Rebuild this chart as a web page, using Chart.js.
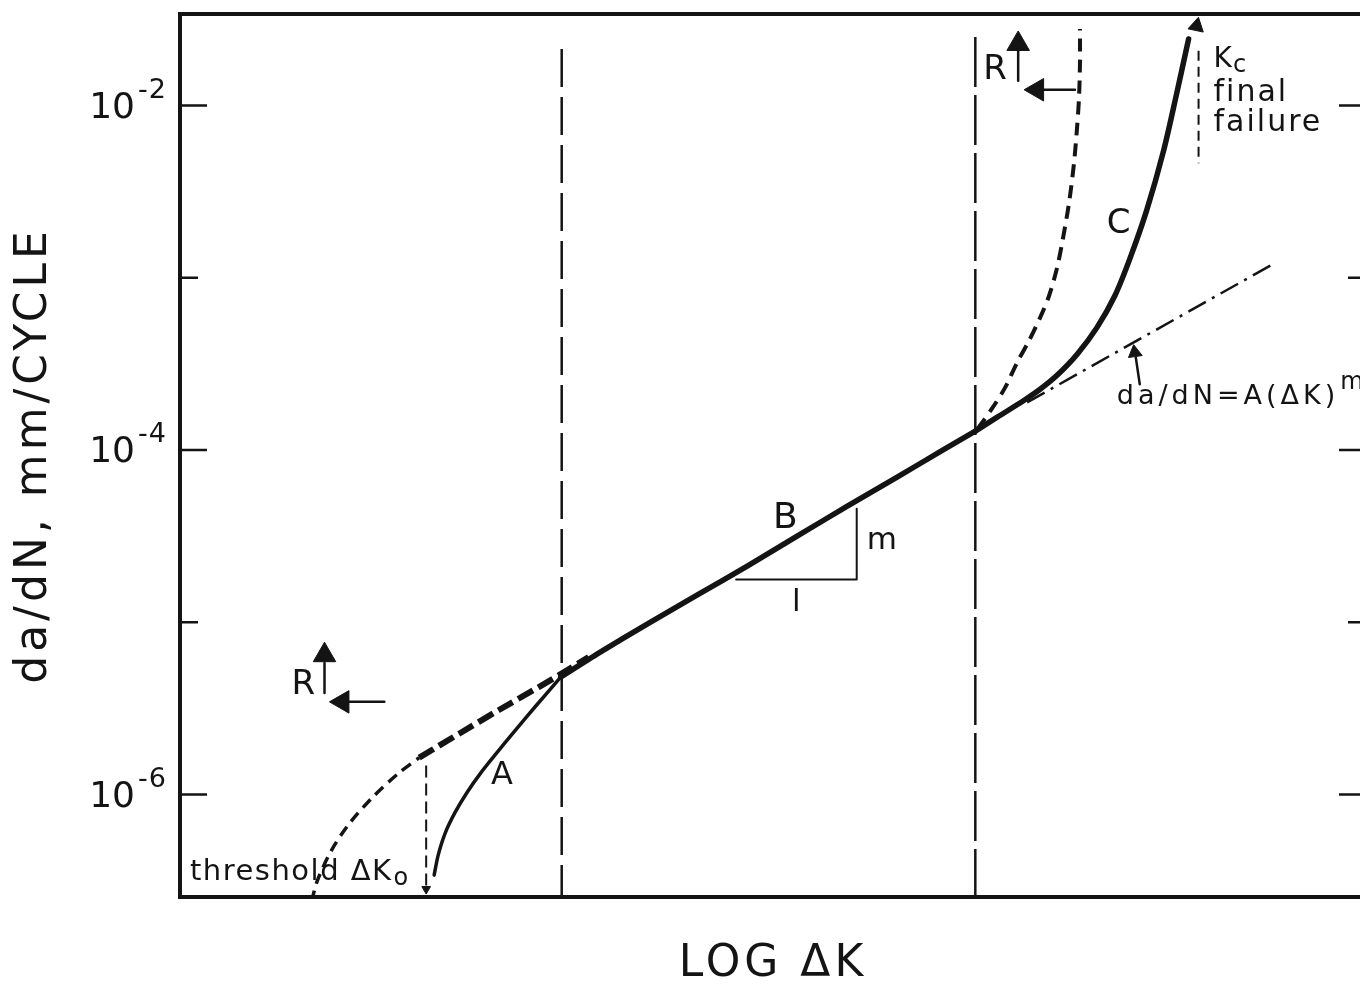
<!DOCTYPE html>
<html lang="en">
<head>
<meta charset="UTF-8">
<title>Fatigue crack growth regions</title>
<script src="https://cdn.jsdelivr.net/npm/chart.js@4/dist/chart.umd.min.js"></script>
<style>
    html, body { margin: 0; padding: 0; overflow: hidden; background: #fff; }
    #wrap { width: 1380px; height: 988px; }
</style>
</head>
<body>
<div id="wrap"><canvas id="crackChart" width="1380" height="988"></canvas></div>
<script>
// x = LOG dK in arbitrary units (the figure has no scale), y = log10 of da/dN (mm/cycle)
var xRange = [0, 1190];
var yRangeLog = [-6.595, -1.468];
var decadeExp = [-2, -3, -4, -5, -6];
var tickLabelExp = [-2, -4, -6];

// region A, near threshold
var regionA_x   = [255, 259, 266, 276, 288, 302, 318, 336, 357, 382];
var regionA_log = [-6.468, -6.353, -6.225, -6.104, -5.988, -5.873, -5.757, -5.630, -5.486, -5.318];
// region B, power law
var regionB_x   = [382, 420, 470, 520, 570, 620, 670, 720, 767, 798];
var regionB_log = [-5.318, -5.179, -5.006, -4.838, -4.671, -4.497, -4.324, -4.156, -3.994, -3.890];
// region C, up to Kc
var regionC_x   = [798, 820, 847, 863, 880, 900, 920, 938, 953, 970, 987, 1000, 1012];
var regionC_log = [-3.890, -3.809, -3.711, -3.647, -3.566, -3.445, -3.289, -3.104, -2.890, -2.607, -2.260, -1.931, -1.613];
// higher R (dashed), fast end
var highRTop_x   = [800, 815, 828, 840, 852, 863, 872, 880, 886, 892, 897, 900, 902, 903, 903];
var highRTop_log = [-3.879, -3.757, -3.636, -3.491, -3.364, -3.231, -3.104, -2.942, -2.769, -2.566, -2.335, -2.133, -1.960, -1.757, -1.555];
// higher R (dashed), threshold end
var highRLow_x   = [132, 138, 152, 170, 195, 220, 240];
var highRLow_log = [-6.620, -6.497, -6.324, -6.168, -6.006, -5.873, -5.786];
var highRJoin_x   = [240, 280, 320, 360, 382, 410];
var highRJoin_log = [-5.786, -5.647, -5.509, -5.376, -5.301, -5.202];
// da/dN = A(dK)^m extended
var parisExt_x   = [850, 1097];
var parisExt_log = [-3.723, -2.919];

// vertical lines: region bounds, threshold, Kc
var divider_x      = [383, 798, 247, 1022];
var dividerTop_log = [-1.671, -1.601, -5.832, -1.682];
var dividerBot_log = [-6.620, -6.620, -6.555, -2.335];

// slope triangle
var slope_x   = [558, 679, 679];
var slope_log = [-4.751, -4.751, -4.341];

// arrows [x0, log0, x1, log1]
var arrowShafts = [
    [145, -5.410, 145, -5.237],
    [205, -5.462, 165, -5.462],
    [841, -1.855, 841, -1.671],
    [898, -1.908, 865, -1.908],
    [963, -3.618, 959, -3.462]
];
var head_x   = [145, 163, 841, 860, 958, 1020, 247];
var head_log = [-5.191, -5.462, -1.642, -1.908, -3.434, -1.538, -6.549];

var notes = [
    { text: 'B', x: 595, log: -4.451, size: 36 },
    { text: 'm', x: 689, log: -4.572, size: 31 },
    { text: 'l', x: 614, log: -4.936, size: 31 },
    { text: 'A', x: 312, log: -5.936, size: 32 },
    { text: 'C', x: 930, log: -2.740, size: 34 },
    { text: 'R', x: 112, log: -5.416, size: 34 },
    { text: 'R', x: 806, log: -1.844, size: 34 },
    { text: 'threshold ΔK', x: 10, log: -6.497, size: 29, spacing: 1.5, tail: 'o', tailSize: 24, tailShift: 5 },
    { text: 'K', x: 1037, log: -1.775, size: 28, tail: 'c', tailSize: 24, tailShift: 5 },
    { text: 'final', x: 1037, log: -1.971, size: 30, spacing: 2 },
    { text: 'failure', x: 1037, log: -2.145, size: 30, spacing: 2 },
    { text: 'da/dN=A(ΔK)', x: 940, log: -3.734, size: 27, spacing: 4, tail: 'm', tailSize: 24, tailShift: -15 }
];

var ink = '#141414';
var fontName = '"DejaVu Sans", sans-serif';

function pts(xs, logs) {
    return xs.map(function (x, i) { return { x: x, y: Math.pow(10, logs[i]) }; });
}

function curve(data, width, dash, tension) {
    return {
        data: data,
        showLine: true,
        borderColor: ink,
        borderWidth: width,
        borderDash: dash || [],
        borderCapStyle: dash ? 'butt' : 'round',
        borderJoinStyle: 'round',
        tension: tension || 0,
        pointRadius: 0,
        pointHoverRadius: 0
    };
}

var datasets = [];
// arrowheads on top
datasets.push({
    data: pts(head_x, head_log),
    showLine: false,
    pointStyle: 'triangle',
    pointRadius: [13, 13, 13, 13, 8, 9, 5],
    pointRotation: [0, 270, 0, 270, -8, 12, 180],
    pointBackgroundColor: ink,
    pointBorderColor: ink,
    pointBorderWidth: 1,
    pointHoverRadius: 0
});
arrowShafts.forEach(function (s) {
    datasets.push(curve(pts([s[0], s[2]], [s[1], s[3]]), 2.5));
});
datasets.push(curve(pts(regionA_x, regionA_log), 3.5, null, 0.3));
datasets.push(curve(pts(regionB_x, regionB_log), 5.5, null, 0.2));
datasets.push(curve(pts(regionC_x, regionC_log), 5.5, null, 0.3));
datasets.push(curve(pts(highRTop_x, highRTop_log), 4, [13, 8], 0.3));
datasets.push(curve(pts(highRLow_x, highRLow_log), 3.5, [11, 7], 0.3));
datasets.push(curve(pts(highRJoin_x, highRJoin_log), 6, [17, 6], 0.2));
datasets.push(curve(pts(parisExt_x, parisExt_log), 2.5, [20, 7, 3, 7]));
datasets.push(curve(pts(slope_x, slope_log), 2));
var dividerDash = [[38, 10], [50, 8], [12, 6], [10, 6]];
divider_x.forEach(function (x, i) {
    datasets.push(curve(pts([x, x], [dividerTop_log[i], dividerBot_log[i]]), i < 2 ? 2.5 : 2, dividerDash[i]));
});

var frameAndText = {
    id: 'frameAndText',
    beforeDraw: function (chart) {
        chart.ctx.letterSpacing = '4px';
    },
    afterDatasetsDraw: function (chart) {
        var ctx = chart.ctx, a = chart.chartArea, xs = chart.scales.x, ys = chart.scales.y;
        ctx.save();
        ctx.letterSpacing = '0px';
        ctx.strokeStyle = ink;
        ctx.fillStyle = ink;
        ctx.lineWidth = 4;
        ctx.strokeRect(a.left, a.top, a.right - a.left, a.bottom - a.top);

        // decade ticks, both sides, pointing inwards
        ctx.lineWidth = 2.5;
        ys.ticks.forEach(function (t) {
            var py = ys.getPixelForValue(t.value);
            var e = Math.round(Math.log10(t.value));
            var len = (e % 2 === 0) ? 27 : 18;
            ctx.beginPath();
            ctx.moveTo(a.left, py); ctx.lineTo(a.left + len, py);
            ctx.moveTo(a.right, py); ctx.lineTo(a.right - len, py);
            ctx.stroke();
        });

        // 10^-n labels
        ctx.textBaseline = 'alphabetic';
        tickLabelExp.forEach(function (e) {
            var py = ys.getPixelForValue(Math.pow(10, e));
            ctx.font = '36px ' + fontName;
            ctx.textAlign = 'right';
            ctx.fillText('10', 135, py + 12);
            ctx.font = '27px ' + fontName;
            ctx.textAlign = 'left';
            ctx.letterSpacing = '1px';
            ctx.fillText('-' + (-e), 138, py - 8);
            ctx.letterSpacing = '0px';
        });

        // annotations
        ctx.textAlign = 'left';
        notes.forEach(function (n) {
            var px = xs.getPixelForValue(n.x);
            var py = ys.getPixelForValue(Math.pow(10, n.log));
            ctx.letterSpacing = (n.spacing || 0) + 'px';
            ctx.font = n.size + 'px ' + fontName;
            ctx.fillText(n.text, px, py);
            if (n.tail) {
                var w = ctx.measureText(n.text).width;
                ctx.font = n.tailSize + 'px ' + fontName;
                ctx.fillText(n.tail, px + w + 1, py + n.tailShift);
            }
        });
        ctx.restore();
    }
};

var titleFont = { family: 'DejaVu Sans', size: 44 };

new Chart(document.getElementById('crackChart').getContext('2d'), {
    type: 'scatter',
    data: { datasets: datasets },
    options: {
        responsive: false,
        animation: false,
        layout: { padding: { left: 0, top: 8, right: 10, bottom: 0 } },
        plugins: { legend: { display: false }, tooltip: { enabled: false } },
        scales: {
            x: {
                type: 'linear',
                min: xRange[0],
                max: xRange[1],
                ticks: { display: false },
                grid: { display: false },
                border: { display: false },
                title: { display: true, text: 'LOG ΔK', color: ink, font: titleFont, padding: { top: 0, bottom: -3 } },
                afterFit: function (s) { s.height = 91; }
            },
            y: {
                type: 'logarithmic',
                min: Math.pow(10, yRangeLog[0]),
                max: Math.pow(10, yRangeLog[1]),
                ticks: { display: false },
                grid: { display: false },
                border: { display: false },
                title: { display: true, text: 'da/dN, mm/CYCLE', color: ink, font: titleFont, padding: { top: 8, bottom: 0 } },
                afterBuildTicks: function (s) {
                    s.ticks = decadeExp.map(function (e) { return { value: Math.pow(10, e) }; });
                },
                afterFit: function (s) { s.width = 180; }
            }
        }
    },
    plugins: [frameAndText]
});
</script>
</body>
</html>
